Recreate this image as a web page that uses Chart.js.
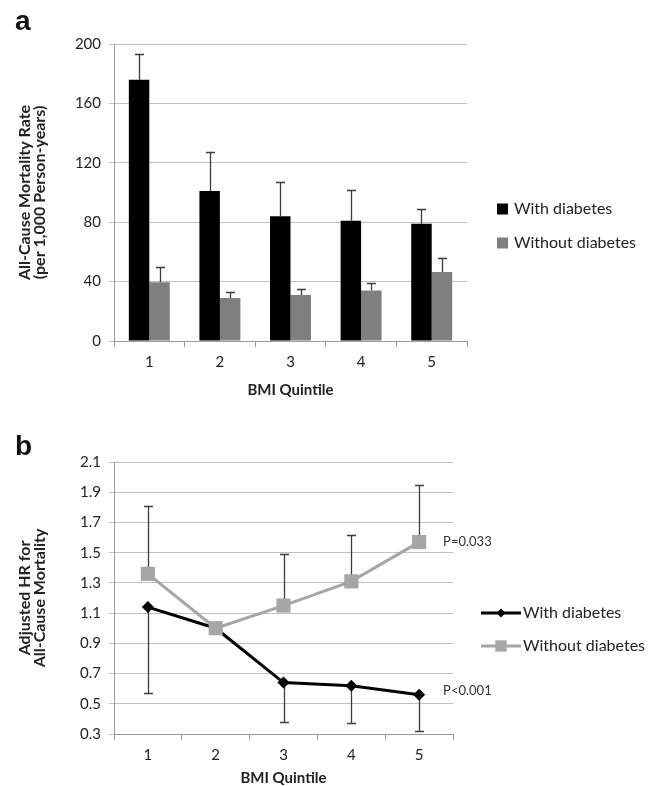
<!DOCTYPE html>
<html>
<head>
<meta charset="utf-8">
<script src="https://cdn.jsdelivr.net/npm/chart.js@4.4.1/dist/chart.umd.min.js"></script>
<style>
  body { margin: 0; background: #fff; }
  .wrap { position: absolute; left: 0; width: 662px; }
</style>
</head>
<body>
<div class="wrap" style="top:0;height:400px"><canvas id="chart-a"></canvas></div>
<div class="wrap" style="top:400px;height:386px"><canvas id="chart-b"></canvas></div>
<script>
// values
const quintiles = ["1", "2", "3", "4", "5"];

// panel a: all-cause mortality rate per 1,000 person-years
const rateWith = [176, 101, 84, 81, 79];
const rateWithUpper = [193, 127, 107, 102, 89];
const rateWithout = [39.5, 29, 31, 34, 46.5];
const rateWithoutUpper = [50, 33, 35, 39, 56];
const rateTicks = [0, 40, 80, 120, 160, 200];

// panel b: adjusted HR (quintile 2 is the reference)
const hrWith = [1.14, 1.0, 0.64, 0.62, 0.56];
const hrWithLower = [0.57, null, 0.38, 0.37, 0.32];
const hrWithout = [1.36, 1.0, 1.15, 1.31, 1.57];
const hrWithoutUpper = [1.81, null, 1.49, 1.62, 1.95];
const hrTicks = [0.3, 0.5, 0.7, 0.9, 1.1, 1.3, 1.5, 1.7, 1.9, 2.1];
const pWith = "P<0.001";
const pWithout = "P=0.033";

const seriesNames = ["With diabetes", "Without diabetes"];

Chart.defaults.font.family = "Lato, 'Open Sans', sans-serif";
Chart.defaults.color = "#222";

const gridColor = "#c0c0c0";
const axisColor = "#999999";
const yTitleFont = { size: 16, weight: "bold", lineHeight: 0.95 };
const xTitleFont = { size: 15, weight: "bold", lineHeight: 1.1 };

// error bars, drawn from each mark to the given end value
const errorBars = {
  id: "errorBars",
  beforeDatasetsDraw(chart, args, opts) {
    const ctx = chart.ctx;
    const y = chart.scales.y;
    ctx.save();
    ctx.strokeStyle = "#3c3c3c";
    ctx.lineWidth = 1.3;
    opts.sets.forEach(([dsIndex, ends]) => {
      chart.getDatasetMeta(dsIndex).data.forEach((el, i) => {
        if (ends[i] == null) return;
        const yEnd = Math.round(y.getPixelForValue(ends[i])) + 0.5;
        const x = Math.round(el.x) + 0.5;
        ctx.beginPath();
        ctx.moveTo(x, el.y);
        ctx.lineTo(x, yEnd);
        ctx.moveTo(x - 4.5, yEnd);
        ctx.lineTo(x + 4.5, yEnd);
        ctx.stroke();
      });
    });
    ctx.restore();
  }
};

// panel letter, legend and p-values
const extras = {
  id: "extras",
  afterDraw(chart, args, opts) {
    const ctx = chart.ctx;
    ctx.save();
    ctx.fillStyle = "#111";
    ctx.font = "bold 28px 'Liberation Sans', Arial, sans-serif";
    ctx.textBaseline = "alphabetic";
    ctx.fillText(opts.letter, 15, opts.letterY);

    ctx.font = "16px Lato, sans-serif";
    ctx.textBaseline = "middle";
    opts.legend.forEach((item, i) => {
      const ds = chart.data.datasets[i];
      const yy = opts.legendY[i];
      if (chart.config.type === "bar") {
        ctx.fillStyle = ds.backgroundColor;
        ctx.fillRect(opts.legendX, yy - 5.5, 11, 11);
        ctx.fillStyle = "#222";
        ctx.fillText(item, opts.legendX + 17, yy);
      } else {
        ctx.strokeStyle = ds.borderColor;
        ctx.lineWidth = 3;
        ctx.beginPath();
        ctx.moveTo(opts.legendX, yy);
        ctx.lineTo(opts.legendX + 40, yy);
        ctx.stroke();
        ctx.fillStyle = ds.pointBackgroundColor;
        Chart.helpers.drawPoint(ctx, {
          pointStyle: ds.pointStyle, radius: opts.legendRadius[i], rotation: 0, borderWidth: 0
        }, opts.legendX + 20, yy);
        ctx.fillStyle = "#222";
        ctx.fillText(item, opts.legendX + 42, yy);
      }
    });

    if (opts.pLabels) {
      ctx.font = "13px Lato, sans-serif";
      ctx.fillStyle = "#333";
      opts.pLabels.forEach(([dsIndex, text, dy]) => {
        const pts = chart.getDatasetMeta(dsIndex).data;
        const last = pts[pts.length - 1];
        ctx.fillText(text, last.x + 24, last.y + dy);
      });
    }
    ctx.restore();
  }
};

// Chart a: bar chart with upper error bars
const ctxA = document.getElementById("chart-a").getContext("2d");
const chartA = new Chart(ctxA, {
  type: "bar",
  data: {
    labels: quintiles,
    datasets: [
      { label: seriesNames[0], data: rateWith, backgroundColor: "#000000" },
      { label: seriesNames[1], data: rateWithout, backgroundColor: "#7f7f7f" }
    ]
  },
  options: {
    responsive: true,
    maintainAspectRatio: false,
    animation: false,
    barPercentage: 1,
    categoryPercentage: 0.58,
    layout: { padding: { left: 0, top: 44, right: 195, bottom: 0 } },
    plugins: {
      legend: { display: false },
      tooltip: { enabled: false },
      errorBars: { sets: [[0, rateWithUpper], [1, rateWithoutUpper]] },
      extras: {
        letter: "a", letterY: 30,
        legend: seriesNames, legendX: 497, legendY: [209, 243]
      }
    },
    scales: {
      x: {
        grid: { drawOnChartArea: false, tickLength: 6, color: axisColor, offset: true },
        border: { color: axisColor },
        ticks: { font: { size: 15 }, padding: 6 },
        title: { display: true, text: "BMI Quintile", font: xTitleFont, padding: { top: 0, bottom: 2 } },
        afterFit: (s) => { s.height = 59; }
      },
      y: {
        min: 0,
        max: 200,
        afterBuildTicks: (s) => { s.ticks = rateTicks.map((v) => ({ value: v })); },
        grid: { color: gridColor, tickLength: 5 },
        border: { color: axisColor },
        ticks: { font: { size: 15 }, padding: 8 },
        title: {
          display: true,
          text: ["All-Cause Mortality Rate", "(per 1,000 Person-years)"],
          font: yTitleFont,
          padding: { top: 17, bottom: 0 }
        },
        afterFit: (s) => { s.width = 114; }
      }
    }
  },
  plugins: [errorBars, extras]
});

// Chart b: line chart with one-sided error bars
const ctxB = document.getElementById("chart-b").getContext("2d");
const chartB = new Chart(ctxB, {
  type: "line",
  data: {
    labels: quintiles,
    datasets: [
      {
        label: seriesNames[0], data: hrWith, order: 1,
        borderColor: "#000000", borderWidth: 3,
        pointStyle: "rectRot", pointRadius: 6,
        pointBackgroundColor: "#000000", pointBorderWidth: 0
      },
      {
        label: seriesNames[1], data: hrWithout, order: 0,
        borderColor: "#a6a6a6", borderWidth: 3,
        pointStyle: "rect", pointRadius: 10,
        pointBackgroundColor: "#a6a6a6", pointBorderWidth: 0
      }
    ]
  },
  options: {
    responsive: true,
    maintainAspectRatio: false,
    animation: false,
    layout: { padding: { left: 0, top: 62, right: 209, bottom: 0 } },
    plugins: {
      legend: { display: false },
      tooltip: { enabled: false },
      errorBars: { sets: [[0, hrWithLower], [1, hrWithoutUpper]] },
      extras: {
        letter: "b", letterY: 55,
        legend: seriesNames, legendX: 481, legendY: [213, 246], legendRadius: [4.5, 8],
        pLabels: [[1, pWithout, 0], [0, pWith, -4]]
      }
    },
    scales: {
      x: {
        offset: true,
        grid: { drawOnChartArea: false, tickLength: 6, color: axisColor, offset: true },
        border: { color: axisColor },
        ticks: { font: { size: 15 }, padding: 6 },
        title: { display: true, text: "BMI Quintile", font: xTitleFont, padding: { top: 0, bottom: 0 } },
        afterFit: (s) => { s.height = 52; }
      },
      y: {
        min: 0.3,
        max: 2.1,
        afterBuildTicks: (s) => { s.ticks = hrTicks.map((v) => ({ value: v })); },
        grid: { color: gridColor, tickLength: 5 },
        border: { color: axisColor },
        ticks: { font: { size: 15 }, padding: 8, callback: (v) => v.toFixed(1) },
        title: {
          display: true,
          text: ["Adjusted HR for", "All-Cause Mortality"],
          font: yTitleFont,
          padding: { top: 17, bottom: 0 }
        },
        afterFit: (s) => { s.width = 114; }
      }
    }
  },
  plugins: [errorBars, extras]
});
</script>
</body>
</html>
